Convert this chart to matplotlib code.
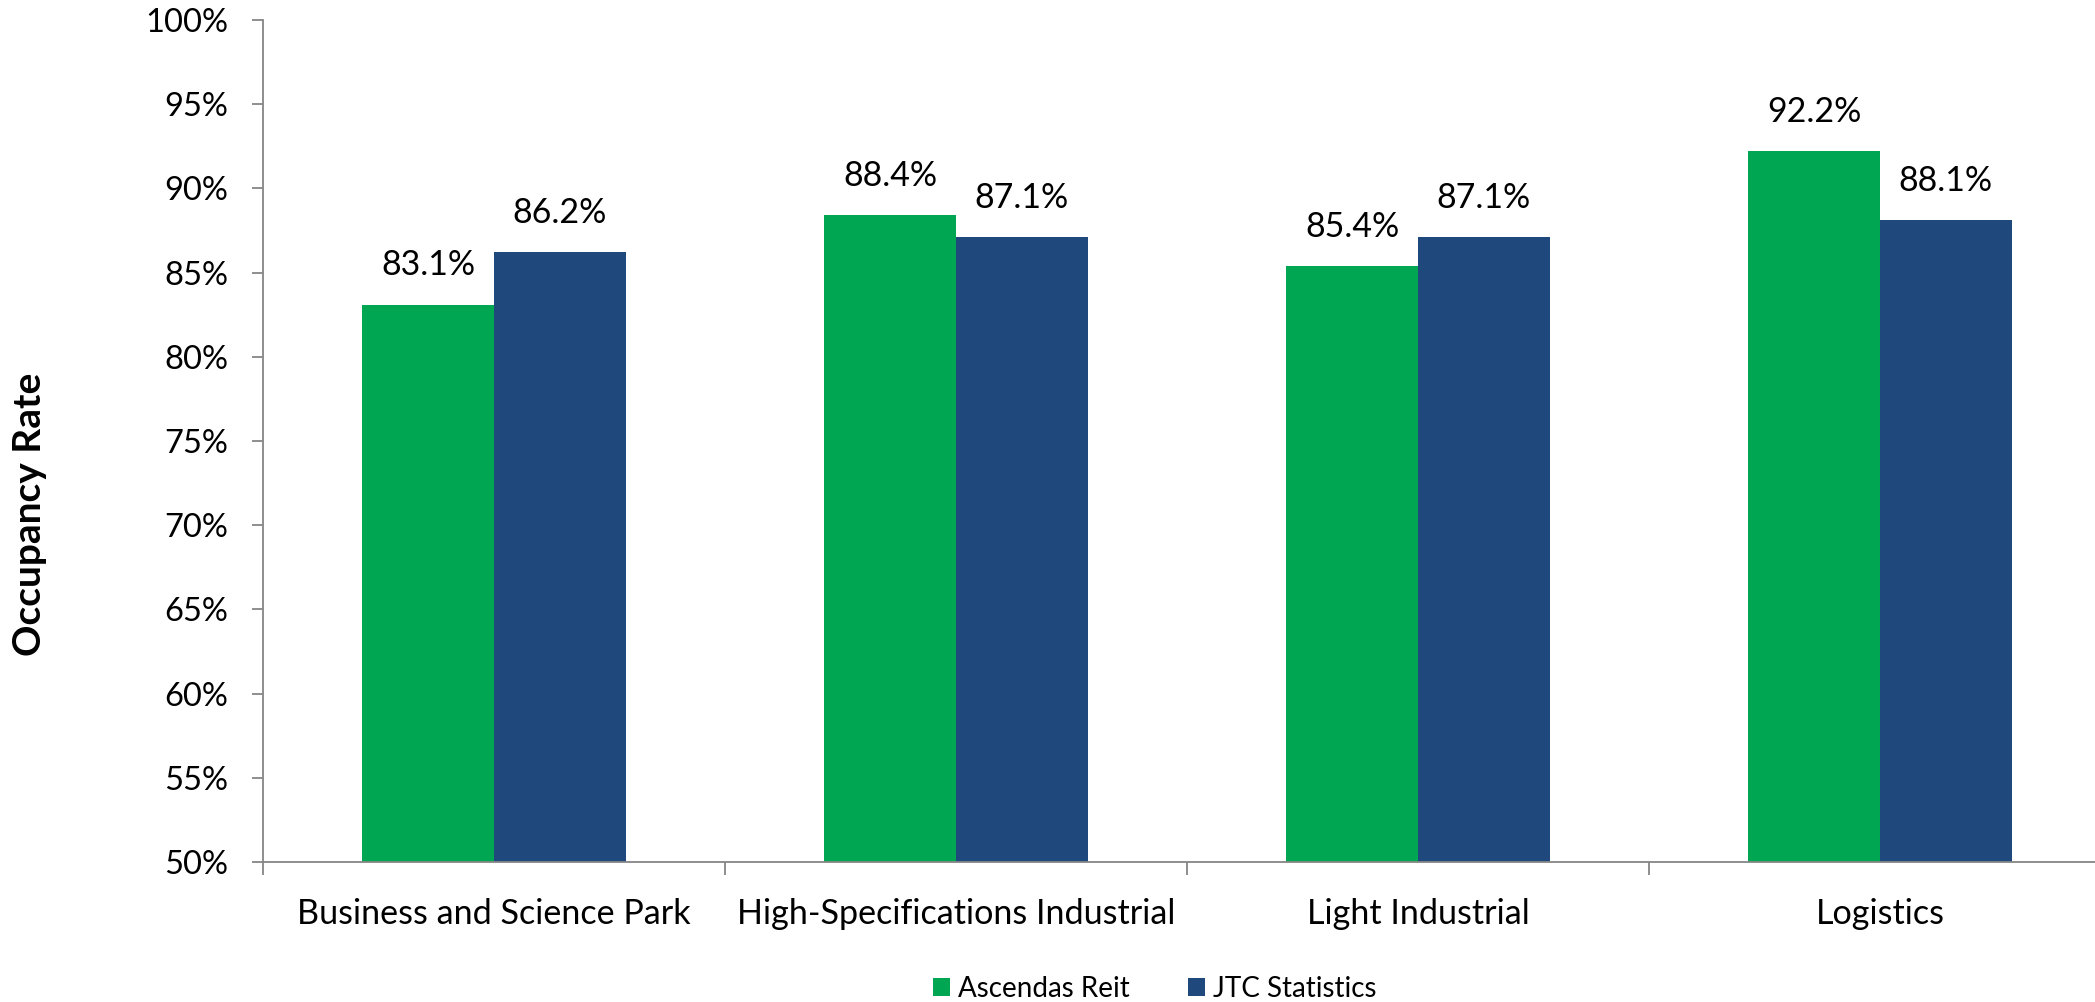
import matplotlib
matplotlib.use("Agg")
import matplotlib.pyplot as plt
import numpy as np
from matplotlib.ticker import FixedLocator, PercentFormatter
from matplotlib.patches import Patch

categories = ["Business and Science Park", "High-Specifications Industrial",
              "Light Industrial", "Logistics"]
series_names = ["Ascendas Reit", "JTC Statistics"]
ascendas = [83.1, 88.4, 85.4, 92.2]
jtc = [86.2, 87.1, 87.1, 88.1]
colors = ["#00A651", "#1F497D"]

plt.rcParams['font.family'] = ['Lato', 'DejaVu Sans']

W, H = 2095, 1002
fig = plt.figure(figsize=(W / 100, H / 100), dpi=100)
left = 263 / W
right = 2111 / W
bottom = (H - 862) / H
top = (H - 20) / H
ax = fig.add_axes([left, bottom, right - left, top - bottom])

x = np.arange(len(categories))
bw = 0.285
for vals, off, c in [(ascendas, -bw / 2, colors[0]), (jtc, bw / 2, colors[1])]:
    bars = ax.bar(x + off, vals, width=bw, color=c, zorder=2)
    for b, v in zip(bars, vals):
        ax.annotate(f"{v:.1f}%", (b.get_x() + b.get_width() / 2, v),
                    xytext=(0, 21), textcoords="offset points",
                    ha="center", va="baseline", fontsize=24.5, color="black")

ax.set_xlim(-0.5, len(categories) - 0.5)
ax.set_ylim(50, 100)
ax.set_yticks(np.arange(50, 101, 5))
ax.yaxis.set_major_formatter(PercentFormatter(decimals=0))
ax.tick_params(axis='y', length=8, width=1.3, color='#868686', pad=17, labelsize=23.5)

ax.set_xticks(x)
ax.set_xticklabels(categories)
ax.tick_params(axis='x', which='major', length=0, pad=26, labelsize=24.6)
ax.xaxis.set_minor_locator(FixedLocator(np.arange(len(categories)) - 0.5))
ax.tick_params(axis='x', which='minor', length=9.5, width=1.3, color='#868686')

for s in ['top', 'right']:
    ax.spines[s].set_visible(False)
for s in ['left', 'bottom']:
    ax.spines[s].set_color('#868686')
    ax.spines[s].set_linewidth(1.3)

fig.text(30 / W, 1 - 514 / H, "Occupancy Rate", rotation=90, ha='center', va='center',
         fontsize=28, fontweight='bold')

handles = [Patch(facecolor=c, edgecolor='none') for c in colors]
fig.legend(handles, series_names, loc='center', bbox_to_anchor=(1155 / W, 13 / H),
           ncol=2, frameon=False, fontsize=20, handlelength=0.6, handleheight=0.6,
           handletextpad=0.3, columnspacing=2.1, borderpad=0, borderaxespad=0)

fig.savefig("out.png", dpi=100)
